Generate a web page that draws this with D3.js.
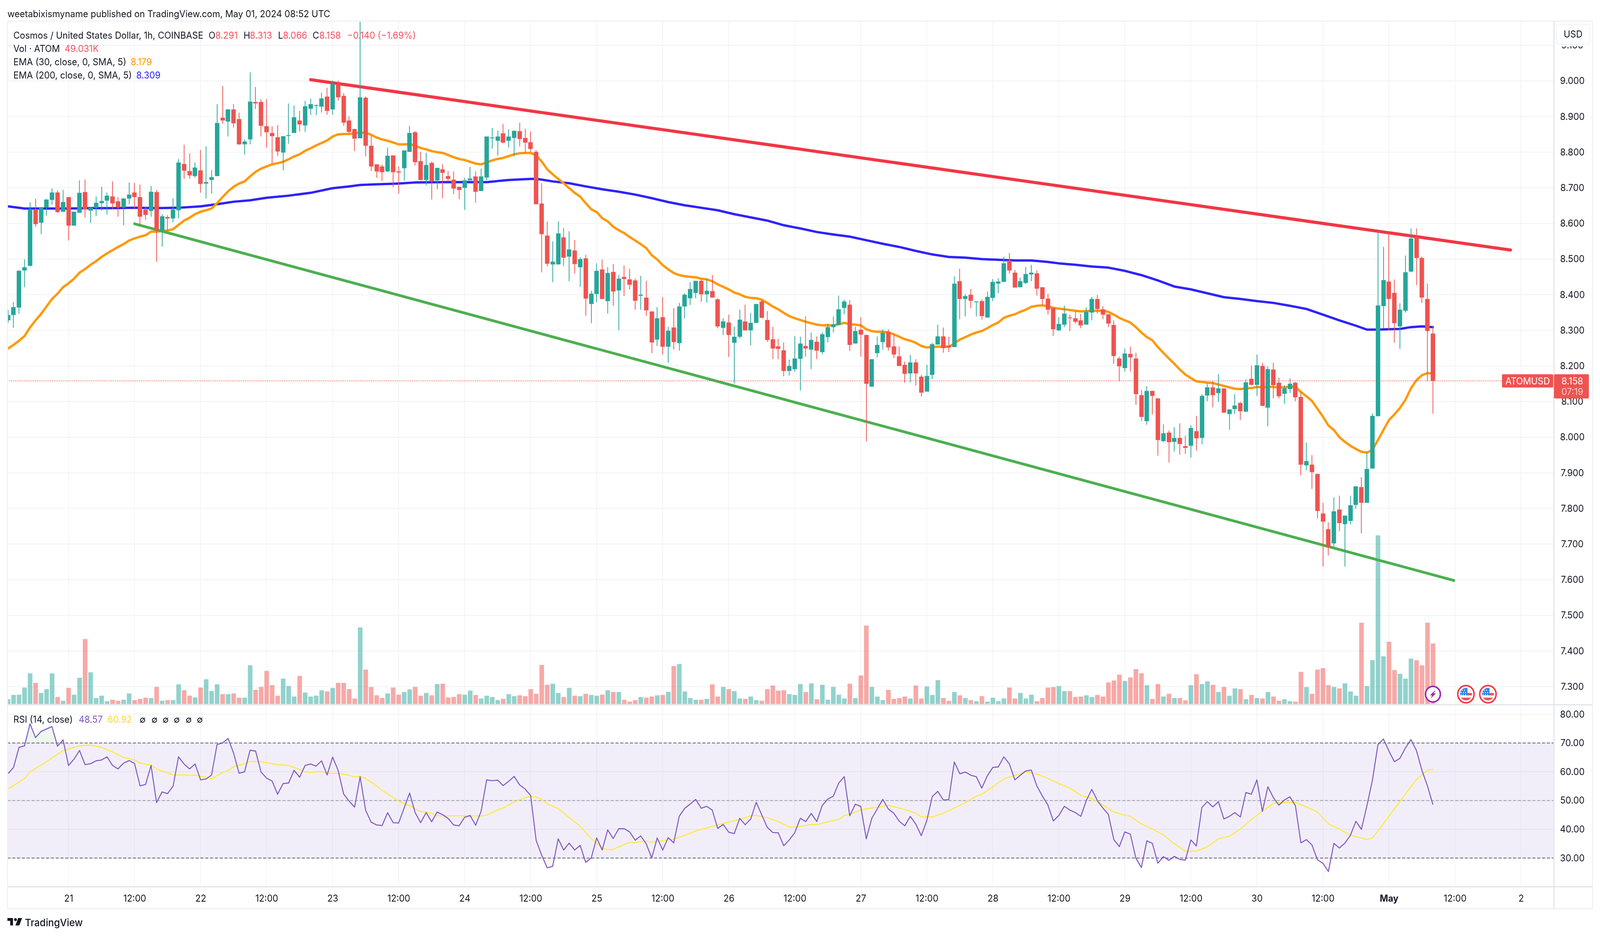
<!DOCTYPE html>
<html><head><meta charset="utf-8">
<script src="https://cdn.jsdelivr.net/npm/d3@7/dist/d3.min.js"></script>
<style>html,body{margin:0;padding:0;background:#fff;width:100%;height:100%;overflow:hidden}svg{display:block;position:fixed;left:0;top:0;width:100vw;height:100vh}text{font-family:Inter,"Noto Sans",sans-serif;fill:#131722}</style>
</head><body><svg id="c" viewBox="0 0 4310 2396" preserveAspectRatio="none"></svg>
<script>
const firstHour=-11;
const opens=[8.328,8.343,8.364,8.468,8.481,8.640,8.602,8.645,8.666,8.687,8.633,
8.674,8.594,8.630,8.688,8.636,8.644,8.657,8.664,8.676,8.662,
8.645,8.670,8.687,8.674,8.639,8.635,8.688,8.581,8.618,8.614,
8.637,8.767,8.747,8.733,8.749,8.712,8.722,8.733,8.897,8.886,
8.920,8.893,8.822,8.836,8.941,8.941,8.873,8.854,8.842,8.799,
8.846,8.854,8.889,8.875,8.922,8.931,8.928,8.956,8.920,8.991,
8.958,8.889,8.865,8.839,8.953,8.818,8.766,8.760,8.746,8.791,
8.746,8.755,8.801,8.856,8.775,8.722,8.770,8.721,8.752,8.733,
8.723,8.703,8.700,8.721,8.732,8.691,8.729,8.839,8.832,8.853,
8.832,8.840,8.859,8.840,8.828,8.801,8.656,8.566,8.485,8.485,
8.561,8.507,8.524,8.477,8.502,8.374,8.402,8.471,8.382,8.464,
8.412,8.450,8.443,8.440,8.397,8.392,8.353,8.274,8.337,8.254,
8.308,8.264,8.367,8.390,8.405,8.439,8.401,8.410,8.387,8.307,
8.322,8.265,8.282,8.325,8.300,8.321,8.381,8.329,8.275,8.255,
8.244,8.186,8.191,8.220,8.256,8.246,8.268,8.239,8.281,8.309,
8.315,8.363,8.372,8.263,8.302,8.287,8.142,8.236,8.267,8.296,
8.255,8.227,8.203,8.179,8.210,8.170,8.128,8.175,8.260,8.283,
8.257,8.253,8.438,8.388,8.400,8.379,8.382,8.336,8.391,8.431,
8.436,8.496,8.462,8.421,8.433,8.457,8.460,8.421,8.389,8.363,
8.300,8.316,8.336,8.334,8.328,8.316,8.350,8.388,8.359,8.345,
8.315,8.221,8.194,8.234,8.221,8.118,8.045,8.130,8.109,7.989,
8.013,7.987,7.998,7.975,7.976,8.017,7.998,8.117,8.140,8.124,
8.137,8.065,8.079,8.096,8.072,8.164,8.147,8.200,8.083,8.190,
8.153,8.122,8.135,8.153,8.113,7.921,7.923,7.897,7.786,7.742,
7.702,7.797,7.756,7.765,7.810,7.860,7.816,7.912,8.059,8.368,
8.437,8.405,8.311,8.355,8.465,8.561,8.503,8.388,8.291];
const closes=[8.343,8.365,8.467,8.477,8.640,8.598,8.644,8.667,8.687,8.632,8.660,
8.594,8.633,8.686,8.639,8.644,8.658,8.663,8.678,8.656,8.645,
8.670,8.681,8.674,8.619,8.624,8.689,8.581,8.620,8.614,8.639,
8.771,8.748,8.735,8.757,8.711,8.716,8.730,8.882,8.889,8.920,
8.881,8.822,8.830,8.942,8.937,8.874,8.856,8.845,8.802,8.845,
8.848,8.898,8.878,8.929,8.935,8.932,8.951,8.916,8.991,8.954,
8.883,8.857,8.838,8.954,8.818,8.760,8.746,8.744,8.790,8.744,
8.743,8.805,8.854,8.772,8.722,8.764,8.719,8.756,8.742,8.725,
8.698,8.694,8.721,8.726,8.689,8.732,8.844,8.841,8.844,8.827,
8.844,8.860,8.837,8.827,8.809,8.654,8.570,8.487,8.493,8.572,
8.504,8.527,8.486,8.500,8.389,8.403,8.467,8.388,8.461,8.409,
8.445,8.444,8.428,8.383,8.400,8.356,8.266,8.334,8.254,8.299,
8.267,8.367,8.400,8.416,8.439,8.401,8.411,8.392,8.311,8.325,
8.287,8.282,8.330,8.300,8.321,8.374,8.335,8.273,8.249,8.248,
8.186,8.200,8.221,8.263,8.249,8.273,8.243,8.289,8.309,8.317,
8.359,8.381,8.259,8.298,8.288,8.150,8.219,8.259,8.293,8.252,
8.232,8.200,8.178,8.210,8.179,8.125,8.172,8.261,8.283,8.250,
8.252,8.431,8.388,8.396,8.383,8.381,8.340,8.394,8.436,8.437,
8.488,8.468,8.420,8.438,8.458,8.462,8.417,8.388,8.358,8.303,
8.318,8.347,8.334,8.324,8.314,8.352,8.388,8.360,8.344,8.319,
8.228,8.199,8.235,8.224,8.121,8.057,8.130,8.116,7.992,8.011,
7.986,7.998,7.981,7.970,8.026,7.997,8.116,8.140,8.118,8.137,
8.069,8.078,8.089,8.073,8.154,8.147,8.202,8.088,8.191,8.146,
8.115,8.137,8.150,8.112,7.923,7.933,7.902,7.793,7.763,7.692,
7.792,7.759,7.780,7.809,7.862,7.816,7.911,8.060,8.370,8.441,
8.388,8.320,8.358,8.463,8.558,8.503,8.392,8.298,8.158];
const highs=[8.357,8.379,8.469,8.499,8.659,8.669,8.646,8.669,8.698,8.693,8.694,
8.674,8.633,8.721,8.723,8.646,8.676,8.703,8.687,8.718,8.674,
8.671,8.715,8.714,8.709,8.646,8.705,8.694,8.626,8.623,8.671,
8.781,8.821,8.797,8.771,8.806,8.816,8.750,8.935,8.986,8.921,
8.935,8.911,8.836,9.024,8.983,8.949,8.949,8.873,8.876,8.845,
8.937,8.931,8.916,8.944,8.950,8.934,8.967,8.981,9.001,9.001,
8.965,8.901,8.866,9.2,8.956,8.847,8.766,8.765,8.813,8.791,
8.76,8.805,8.874,8.859,8.801,8.798,8.774,8.756,8.766,8.747,
8.746,8.703,8.728,8.759,8.746,8.754,8.844,8.868,8.861,8.879,
8.864,8.861,8.883,8.866,8.858,8.806,8.713,8.605,8.550,8.606,
8.588,8.578,8.553,8.505,8.512,8.411,8.488,8.499,8.477,8.486,
8.455,8.482,8.473,8.445,8.453,8.439,8.353,8.365,8.393,8.310,
8.362,8.377,8.404,8.435,8.439,8.444,8.445,8.455,8.390,8.334,
8.344,8.310,8.358,8.372,8.349,8.374,8.385,8.354,8.310,8.276,
8.266,8.218,8.284,8.282,8.340,8.294,8.283,8.294,8.319,8.339,
8.397,8.386,8.385,8.310,8.337,8.288,8.219,8.283,8.303,8.303,
8.289,8.255,8.212,8.231,8.219,8.175,8.203,8.265,8.316,8.308,
8.282,8.451,8.473,8.402,8.416,8.381,8.387,8.409,8.444,8.446,
8.507,8.517,8.470,8.448,8.478,8.484,8.468,8.421,8.403,8.363,
8.337,8.369,8.344,8.354,8.346,8.365,8.394,8.399,8.368,8.345,
8.328,8.226,8.249,8.254,8.237,8.133,8.143,8.130,8.109,8.036,
8.019,8.028,8.039,8.004,8.034,8.060,8.121,8.151,8.157,8.177,
8.137,8.078,8.121,8.099,8.163,8.201,8.232,8.209,8.199,8.209,
8.167,8.146,8.165,8.155,8.127,7.985,7.950,7.897,7.816,7.761,
7.831,7.836,7.780,7.836,7.862,7.888,7.957,8.067,8.579,8.534,
8.577,8.443,8.376,8.510,8.586,8.586,8.507,8.431,8.313];
const lows=[8.321,8.307,8.347,8.421,8.479,8.590,8.570,8.622,8.653,8.629,8.633,
8.552,8.594,8.630,8.617,8.601,8.621,8.636,8.625,8.640,8.619,
8.595,8.654,8.640,8.594,8.610,8.619,8.492,8.535,8.580,8.603,
8.614,8.725,8.725,8.729,8.686,8.670,8.684,8.733,8.880,8.844,
8.869,8.821,8.793,8.822,8.921,8.844,8.813,8.769,8.789,8.749,
8.824,8.854,8.858,8.857,8.904,8.904,8.911,8.905,8.905,8.945,
8.874,8.854,8.803,8.839,8.788,8.747,8.728,8.719,8.745,8.702,
8.684,8.720,8.801,8.763,8.721,8.707,8.667,8.696,8.671,8.718,
8.682,8.668,8.638,8.721,8.658,8.691,8.721,8.81,8.790,8.825,
8.813,8.788,8.816,8.797,8.801,8.654,8.463,8.480,8.435,8.485,
8.480,8.438,8.459,8.422,8.341,8.320,8.379,8.388,8.347,8.369,
8.300,8.396,8.415,8.358,8.358,8.340,8.236,8.256,8.232,8.209,
8.246,8.243,8.333,8.371,8.390,8.380,8.378,8.392,8.306,8.287,
8.225,8.151,8.277,8.300,8.258,8.321,8.335,8.268,8.219,8.219,
8.171,8.173,8.184,8.131,8.226,8.191,8.219,8.233,8.266,8.294,
8.315,8.345,8.242,8.263,8.226,7.988,8.141,8.224,8.246,8.243,
8.222,8.200,8.153,8.154,8.145,8.114,8.128,8.163,8.260,8.237,
8.239,8.253,8.331,8.339,8.362,8.339,8.330,8.336,8.382,8.404,
8.436,8.459,8.420,8.421,8.430,8.438,8.398,8.371,8.344,8.284,
8.298,8.309,8.298,8.319,8.306,8.316,8.328,8.347,8.331,8.309,
8.206,8.157,8.184,8.184,8.091,8.045,8.035,8.064,7.948,7.987,
7.929,7.960,7.951,7.953,7.943,7.962,7.980,8.101,8.084,8.099,
8.068,8.021,8.065,8.048,8.070,8.145,8.116,8.088,8.031,8.109,
8.109,8.094,8.124,8.101,7.893,7.907,7.855,7.772,7.637,7.668,
7.692,7.736,7.637,7.755,7.799,7.730,7.816,7.912,8.059,8.306,
8.300,8.265,8.248,8.350,8.463,8.427,8.377,8.158,8.066];
const volumes=[3.8,7.3,7.5,13.3,24.8,17.1,8.9,12.0,24.8,5.6,2.6,
13.0,7.5,21.2,52.6,25.6,4.8,6.7,2.2,3.4,2.6,
3.4,8.5,3.1,4.1,5.1,4.8,13.8,2.6,3.1,3.1,
15.9,11.1,6.7,5.3,13.3,20.0,10.4,15.9,7.9,7.9,
8.5,5.1,5.1,31.3,11.4,13.8,26.8,15.2,6.7,20.5,
14.5,6.0,22.7,9.2,6.0,6.7,11.1,10.1,13.0,17.1,
17.1,12.0,4.4,62.0,27.8,13.7,7.0,4.8,8.5,13.3,
7.5,9.7,11.8,13.8,6.7,8.9,7.0,16.1,16.4,5.3,
5.6,7.9,7.5,10.8,7.3,4.4,6.7,5.6,3.1,4.1,
7.9,6.3,7.0,6.3,12.0,8.2,31.6,15.5,16.4,8.9,
5.6,13.0,6.7,6.3,8.2,7.3,6.7,7.5,11.1,9.7,
9.7,3.4,1.9,3.1,5.6,5.1,6.0,7.0,7.3,9.7,
30.7,32.3,10.1,4.8,3.4,3.4,4.1,15.9,6.0,13.8,
12.0,10.4,4.4,4.1,6.0,3.1,2.6,12.0,14.9,10.8,
11.1,7.9,7.3,16.1,9.7,16.7,3.8,15.5,3.4,13.8,
7.5,4.4,16.4,4.8,23.1,63.5,13.8,6.0,3.1,11.4,
4.1,4.8,6.0,4.4,14.9,4.4,14.2,7.3,19.3,4.8,
2.6,9.7,7.0,4.8,3.1,2.2,6.3,1.9,5.1,2.2,
4.4,13.3,4.4,8.9,4.4,7.5,2.2,4.8,13.3,13.7,
14.5,10.4,10.4,5.6,6.0,7.0,5.6,7.3,6.0,17.4,
19.0,23.7,18.6,21.5,28.2,24.9,15.2,4.1,16.1,6.0,
8.2,4.8,4.8,2.9,15.2,24.1,16.1,18.3,15.5,9.7,
13.8,6.7,12.6,12.0,3.8,7.3,4.8,4.4,9.7,6.0,
2.6,3.8,2.2,1.9,26.0,13.7,8.2,27.8,29.0,15.2,
13.8,12.6,16.7,10.1,6.7,65.8,14.5,35.5,136.6,38.6,
50.4,27.5,24.4,20.5,36.7,35.5,31.3,65.8,49.0];
const rsi=[59.4,61.5,68.5,69.0,76.7,71.9,74.0,74.9,75.7,68.9,71.1,
62.2,64.4,67.4,62.5,62.8,63.8,64.1,65.2,62.2,61.0,
63.0,63.9,62.9,55.1,55.6,62.2,49.3,53.0,52.4,55.0,
65.2,62.7,61.0,62.7,57.2,57.5,58.9,69.5,70.0,71.6,
66.5,59.5,60.0,67.5,67.2,59.9,57.8,56.8,52.2,55.9,
56.1,60.5,58.1,62.2,62.7,62.0,63.8,58.9,65.1,60.5,
52.3,49.8,47.7,58.3,46.6,42.5,41.5,41.3,45.8,42.3,
42.2,47.4,52.6,45.8,42.3,45.8,42.6,46.0,45.1,43.8,
41.5,41.2,44.2,44.8,41.4,46.3,57.2,56.9,57.1,55.2,
56.7,58.4,55.4,54.0,51.7,36.1,31.0,26.6,27.1,36.7,
32.8,35.2,32.8,34.4,28.5,30.0,37.0,32.8,39.8,36.8,
40.2,40.2,39.1,36.2,37.7,35.0,30.0,37.0,32.8,37.1,
35.3,44.5,47.3,48.8,50.4,47.3,48.0,46.7,40.3,41.7,
39.0,38.5,43.8,41.6,43.6,49.4,45.0,40.7,38.9,38.8,
34.3,36.3,38.8,43.8,42.7,45.5,42.7,48.3,50.5,51.5,
56.1,58.3,44.7,48.7,48.0,36.7,43.8,47.1,50.4,47.1,
45.6,42.8,41.2,44.5,41.8,37.8,43.0,51.4,53.2,50.2,
50.3,63.4,59.3,59.9,58.8,58.3,54.3,58.6,61.5,61.7,
65.2,62.8,57.2,58.8,60.3,60.6,55.1,51.6,48.5,42.9,
44.8,48.0,46.7,45.8,44.5,50.0,53.9,50.0,47.4,45.2,
36.4,34.0,39.1,38.3,30.0,26.7,36.0,35.1,28.2,30.5,
29.2,30.6,29.5,29.3,36.3,34.2,47.6,49.6,47.8,49.6,
43.6,44.5,45.8,44.3,52.8,52.2,57.2,46.2,54.8,51.0,
48.4,50.2,51.3,48.2,35.3,36.4,34.6,29.4,28.2,25.3,
35.1,33.5,35.2,37.9,42.8,40.0,48.2,57.1,69.4,71.4,
67.2,63.5,64.7,68.3,71.2,67.4,60.5,55.1,48.57];
const rsiMaHours=[-11,-9,-8,-7,-5,-3,-1,0,2,4,6,8,10,12,13,15,16,19,21,23,25,26,28,29,30,32,33,35,37,38,40,42,43,44,46,47,49,51,52,53,54,56,57,59,60,62,63,64,66,67,69,71,73,75,76,78,79,81,83,84,85,86,87,89,91,93,95,97,98,99,100,102,103,105,106,108,110,112,114,116,118,120,122,124,125,127,129,131,132,134,135,136,138,140,141,142,144,146,148,149,151,153,154,155,157,159,161,163,165,166,168,170,172,174,176,178,180,182,184,186,188,190,192,193,195,197,199,201,203,205,207,209,211,213,215,217,219,221,223,225,227,229,231,233,235,236,237,239,241,243,245,247,248];
const rsiMaValues=[54.0,56.4,57.7,59.9,62.3,64.8,67.4,67.9,69.0,69.3,68.5,66.9,65.0,64.1,63.0,62.3,61.0,58.9,58.9,58.8,58.1,57.6,59.8,60.4,61.8,62.8,63.6,63.5,62.8,62.5,62.2,60.8,60.0,59.8,60.1,59.5,59.4,58.8,58.2,58.4,57.7,55.1,53.5,51.1,49.8,48.2,47.1,46.2,45.6,44.7,44.7,44.7,44.7,44.6,44.9,46.7,47.4,49.5,51.0,51.5,51.2,50.4,48.9,47.2,44.1,41.1,36.8,33.5,32.9,33.0,33.9,35.5,35.4,35.9,35.5,36.1,36.6,37.9,39.4,40.5,41.6,42.5,43.4,44.7,44.8,44.1,42.7,40.8,40.8,41.3,41.7,41.6,42.6,43.4,44.8,45.2,46.8,47.4,48.0,48.3,47.4,46.3,45.6,44.3,44.3,45.6,47.4,49.3,51.5,52.2,54.8,57.5,58.8,59.9,59.2,57.7,55.9,54.4,51.8,50.7,48.5,46.0,44.9,44.5,41.9,40.1,38.1,35.0,32.4,32.4,33.9,36.7,37.6,40.1,43.4,46.3,49.1,49.3,49.3,47.8,46.0,41.9,40.1,37.9,37.0,36.4,37.0,41.9,47.1,52.2,57.3,60.5,60.92];
const ema30=[8.249,8.259,8.271,8.284,8.308,8.328,8.346,8.367,8.388,8.403,8.421,
8.432,8.445,8.462,8.472,8.484,8.494,8.506,8.516,8.525,8.534,
8.542,8.552,8.558,8.563,8.567,8.577,8.577,8.579,8.580,8.584,
8.596,8.608,8.616,8.626,8.633,8.637,8.642,8.657,8.674,8.690,
8.703,8.712,8.718,8.732,8.745,8.754,8.760,8.766,8.769,8.773,
8.780,8.788,8.794,8.804,8.811,8.819,8.826,8.833,8.844,8.850,
8.851,8.851,8.854,8.854,8.855,8.849,8.841,8.836,8.832,8.827,
8.822,8.822,8.823,8.818,8.812,8.808,8.803,8.800,8.798,8.792,
8.786,8.781,8.778,8.773,8.768,8.766,8.771,8.777,8.781,8.784,
8.789,8.794,8.797,8.798,8.798,8.791,8.774,8.752,8.738,8.725,
8.713,8.699,8.686,8.675,8.657,8.640,8.632,8.615,8.606,8.591,
8.581,8.573,8.562,8.552,8.542,8.531,8.511,8.499,8.483,8.471,
8.461,8.455,8.452,8.450,8.449,8.445,8.443,8.438,8.429,8.422,
8.415,8.406,8.401,8.394,8.391,8.390,8.386,8.377,8.367,8.359,
8.349,8.340,8.334,8.329,8.324,8.320,8.316,8.314,8.314,8.314,
8.317,8.321,8.317,8.316,8.314,8.303,8.298,8.296,8.296,8.294,
8.289,8.282,8.275,8.271,8.265,8.256,8.252,8.253,8.254,8.254,
8.254,8.263,8.274,8.281,8.288,8.294,8.298,8.306,8.315,8.322,
8.335,8.341,8.345,8.352,8.358,8.366,8.369,8.370,8.368,8.363,
8.361,8.359,8.357,8.355,8.353,8.354,8.355,8.355,8.355,8.352,
8.344,8.335,8.328,8.322,8.309,8.294,8.281,8.272,8.253,8.237,
8.221,8.206,8.190,8.176,8.166,8.157,8.155,8.153,8.152,8.148,
8.144,8.140,8.136,8.135,8.137,8.138,8.141,8.140,8.141,8.141,
8.140,8.140,8.142,8.141,8.127,8.115,8.102,8.080,8.058,8.033,
8.020,8.000,7.987,7.976,7.967,7.959,7.957,7.964,7.992,8.020,
8.048,8.064,8.082,8.105,8.137,8.160,8.174,8.180,8.179];
const ema200Hours=[-11,-8,-4,0,4,8,12,16,20,24,27,30,33,36,40,44,48,51,53,56,60,63,68,72,76,80,84,85,86,88,91,94,97,100,103,106,109,112,115,118,121,124,127,130,133,136,139,142,145,148,151,154,157,160,163,166,169,172,175,178,180,183,186,189,192,195,198,201,204,207,210,213,216,219,222,225,228,231,234,236,238,240,242,244,246,248];
const ema200Values=[8.648,8.642,8.642,8.642,8.643,8.643,8.644,8.643,8.644,8.648,8.654,8.661,8.665,8.672,8.678,8.686,8.699,8.704,8.708,8.710,8.712,8.715,8.716,8.716,8.716,8.722,8.725,8.725,8.723,8.718,8.713,8.704,8.696,8.689,8.681,8.671,8.660,8.651,8.644,8.637,8.626,8.617,8.608,8.595,8.586,8.576,8.569,8.563,8.553,8.543,8.534,8.523,8.513,8.506,8.504,8.500,8.498,8.496,8.496,8.492,8.488,8.484,8.479,8.476,8.467,8.455,8.440,8.423,8.415,8.404,8.393,8.388,8.382,8.377,8.369,8.360,8.344,8.328,8.313,8.302,8.302,8.303,8.304,8.309,8.311,8.309];
const resistanceLine=[[44,9.0035],[262.1,8.5254]];
const supportLine=[[12,8.599],[251.8,7.598]];
const lastPrice=8.158;
const priceTicks=[9.1,9.0,8.9,8.8,8.7,8.6,8.5,8.4,8.3,8.2,8.1,8.0,7.9,7.8,7.7,7.6,7.5,7.4,7.3];
const rsiTicks=[80,70,60,50,40,30];
const rsiBands=[70,50,30];
const timeTicks=[0,12,24,36,48,60,72,84,96,108,120,132,144,156,168,180,192,204,216,228,240,252,264];
const timeLabels=["21","12:00","22","12:00","23","12:00","24","12:00","25","12:00","26","12:00","27","12:00","28","12:00","29","12:00","30","12:00","May","12:00","2"];
const eventHours={bolt:[248],flag:[254,258]};
const upColor="#26a69a",downColor="#ef5350",purple="#7e57c2",yellow="#fde93b",textRed="#f7525f";

const hours=d3.range(firstHour,firstHour+opens.length);
const svg=d3.select("#c");
const L=20,R=4186,OUT=4290,T=54,B=1804,RB=2270,TB=2326;
const x=d3.scaleLinear().domain([0,240]).range([184.6,3741.4]);
const y=d3.scaleLinear().domain([7.6,8.6]).range([1484,572]);
const vy=d3.scaleLinear().domain([0,100]).range([1802,1486]);
const ry=d3.scaleLinear().domain([30,70]).range([2196.5,1902]);
const gridC="#f3f4f7",edgeC="#f0f1f6",sepC="#e0e3eb";

const defs=svg.append("defs");
defs.append("clipPath").attr("id","pp").append("rect").attr("x",L).attr("y",T).attr("width",R-L).attr("height",B-T);
defs.append("clipPath").attr("id","rp").append("rect").attr("x",L).attr("y",B).attr("width",R-L).attr("height",RB-B);
defs.append("clipPath").attr("id","above").append("rect").attr("x",L).attr("y",B).attr("width",R-L).attr("height",ry(70)-B);
defs.append("clipPath").attr("id","below").append("rect").attr("x",L).attr("y",ry(30)).attr("width",R-L).attr("height",RB-ry(30));

// grid
svg.append("g").selectAll("line").data(timeTicks).join("line")
 .attr("x1",d=>x(d)).attr("x2",d=>x(d)).attr("y1",T).attr("y2",RB).attr("stroke",gridC).attr("stroke-width",2);
svg.append("g").selectAll("line").data(priceTicks).join("line")
 .attr("x1",L).attr("x2",R).attr("y1",d=>y(d)).attr("y2",d=>y(d)).attr("stroke",gridC).attr("stroke-width",2.5);
svg.append("g").selectAll("line").data(rsiTicks).join("line")
 .attr("x1",L).attr("x2",R).attr("y1",d=>ry(d)).attr("y2",d=>ry(d)).attr("stroke",gridC).attr("stroke-width",2.5);

// rsi band
svg.append("rect").attr("x",L).attr("width",R-L).attr("y",ry(70)).attr("height",ry(30)-ry(70)).attr("fill","#7e57c2").attr("fill-opacity",.1);

// volume
const pane=svg.append("g").attr("clip-path","url(#pp)");
pane.append("g").selectAll("rect").data(hours).join("rect")
 .attr("x",(d)=>x(d)-6).attr("width",12.4)
 .attr("y",(d,i)=>vy(volumes[i])).attr("height",(d,i)=>vy(0)-vy(volumes[i]))
 .attr("fill",(d,i)=>closes[i]>=opens[i]?upColor:downColor).attr("fill-opacity",.5);

// last price dotted
svg.append("line").attr("x1",L).attr("x2",4046).attr("y1",y(lastPrice)).attr("y2",y(lastPrice))
 .attr("stroke",downColor).attr("stroke-width",2).attr("stroke-dasharray","2 3");

// emas
const ln=d3.line().x(d=>x(d[0])).y(d=>y(d[1])).curve(d3.curveLinear);
pane.append("path").attr("d",ln(ema200Hours.map((h,i)=>[h,ema200Values[i]]))).attr("fill","none").attr("stroke","#2e22ff").attr("stroke-width",6).attr("stroke-linejoin","round").attr("stroke-linecap","round");
pane.append("path").attr("d",ln(hours.map((h,i)=>[h,ema30[i]]))).attr("fill","none").attr("stroke","#ff9800").attr("stroke-width",6).attr("stroke-linejoin","round").attr("stroke-linecap","round");
// trend lines
pane.append("path").attr("d",ln(resistanceLine)).attr("fill","none").attr("stroke","#f23645").attr("stroke-width",8).attr("stroke-linecap","round");
pane.append("path").attr("d",ln(supportLine)).attr("fill","none").attr("stroke","#4caf50").attr("stroke-width",7).attr("stroke-linecap","round");

// candles
const col=i=>closes[i]>=opens[i]?upColor:downColor;
const cg=pane.append("g");
cg.selectAll("line").data(hours).join("line")
 .attr("x1",d=>Math.round(x(d))).attr("x2",d=>Math.round(x(d)))
 .attr("y1",(d,i)=>y(highs[i])).attr("y2",(d,i)=>y(lows[i]))
 .attr("stroke",(d,i)=>col(i)).attr("stroke-width",2);
cg.selectAll("rect").data(hours).join("rect")
 .attr("x",d=>Math.round(x(d))-6).attr("width",12)
 .attr("y",(d,i)=>y(Math.max(opens[i],closes[i])))
 .attr("height",(d,i)=>Math.max(2,Math.abs(y(opens[i])-y(closes[i]))))
 .attr("fill",(d,i)=>col(i));

// RSI
svg.append("g").selectAll("line").data(rsiBands).join("line")
 .attr("x1",L).attr("x2",R).attr("y1",d=>ry(d)).attr("y2",d=>ry(d))
 .attr("stroke","#787b86").attr("stroke-opacity",d=>d===50?.55:1).attr("stroke-width",2.5).attr("stroke-dasharray","8 5");
const ra=svg.append("g").attr("clip-path","url(#rp)");
const ar=d3.area().x(d=>x(d[0])).y1(d=>ry(d[1]));
const rsiPts=hours.map((h,i)=>[h,rsi[i]]);
ra.append("g").attr("clip-path","url(#above)").append("path").attr("d",ar.y0(ry(70))(rsiPts)).attr("fill","#4caf50").attr("fill-opacity",.1);
ra.append("g").attr("clip-path","url(#below)").append("path").attr("d",ar.y0(ry(30))(rsiPts)).attr("fill","#f23645").attr("fill-opacity",.06);
const rl=d3.line().x(d=>x(d[0])).y(d=>ry(d[1]));
ra.append("path").attr("d",rl(rsiMaHours.map((h,i)=>[h,rsiMaValues[i]]))).attr("fill","none").attr("stroke",yellow).attr("stroke-width",2.6).attr("stroke-linejoin","round");
ra.append("path").attr("d",rl(rsiPts)).attr("fill","none").attr("stroke",purple).attr("stroke-width",2.6).attr("stroke-linejoin","round");

// frame
svg.append("line").attr("x1",L).attr("x2",L).attr("y1",T).attr("y2",TB).attr("stroke",edgeC).attr("stroke-width",3);
svg.append("line").attr("x1",OUT).attr("x2",OUT).attr("y1",T).attr("y2",TB).attr("stroke",edgeC).attr("stroke-width",3);
svg.append("line").attr("x1",L).attr("x2",OUT).attr("y1",T).attr("y2",T).attr("stroke",edgeC).attr("stroke-width",3);
svg.append("line").attr("x1",L).attr("x2",OUT).attr("y1",TB).attr("y2",TB).attr("stroke",edgeC).attr("stroke-width",3);
svg.append("line").attr("x1",R).attr("x2",R).attr("y1",T).attr("y2",TB).attr("stroke",sepC).attr("stroke-width",3);
svg.append("line").attr("x1",L).attr("x2",OUT).attr("y1",B).attr("y2",B).attr("stroke",sepC).attr("stroke-width",3);
svg.append("line").attr("x1",L).attr("x2",OUT).attr("y1",RB).attr("y2",RB).attr("stroke",sepC).attr("stroke-width",3);

// axes
const styleAxis=g=>{g.select(".domain").remove();g.selectAll(".tick line").remove();g.selectAll("text").attr("font-family","Inter").style("font-size","24px").style("fill","#131722");};
svg.append("g").attr("transform",`translate(${4235.5},0)`)
 .call(d3.axisRight(y).tickValues(priceTicks).tickFormat(d3.format(".3f")).tickSize(0).tickPadding(0)).call(styleAxis)
 .selectAll("text").attr("text-anchor","middle").attr("x",0);
svg.append("g").attr("transform",`translate(${4235.5},0)`)
 .call(d3.axisRight(ry).tickValues(rsiTicks).tickFormat(d3.format(".2f")).tickSize(0).tickPadding(0)).call(styleAxis)
 .selectAll("text").attr("text-anchor","middle").attr("x",0);
svg.append("g").attr("transform",`translate(0,2291)`)
 .call(d3.axisBottom(x).tickValues(timeTicks).tickFormat((d,i)=>timeLabels[i]).tickSize(0).tickPadding(0)).call(styleAxis)
 .selectAll("text").attr("y",0).attr("dy","0.71em").style("font-weight",(d,i)=>timeLabels[i]==="May"?"700":"400");

// USD box
svg.append("rect").attr("x",R+3).attr("y",T+2).attr("width",OUT-R-5).attr("height",62).attr("fill","#fff");
svg.append("rect").attr("x",4193).attr("y",62).attr("width",89).attr("height",52).attr("rx",8).attr("fill","#fff").attr("stroke",edgeC).attr("stroke-width",2);
svg.append("text").attr("x",4237.5).attr("y",96.5).attr("text-anchor","middle").style("font-size","24px").text("USD");

// price labels
const tag=svg.append("g");
tag.append("rect").attr("x",4046).attr("y",958).attr("width",138).attr("height",34).attr("rx",3).attr("fill",downColor);
tag.append("rect").attr("x",4186).attr("y",958).attr("width",94).attr("height",62).attr("rx",3).attr("fill",downColor);
tag.append("text").attr("x",4115).attr("y",984).attr("text-anchor","middle").style("font-size","24px").style("fill","#fff").text("ATOMUSD");
tag.append("text").attr("x",4235.5).attr("y",984).attr("text-anchor","middle").style("font-size","24px").style("fill","#fff").text("8.158");
tag.append("text").attr("x",4235.5).attr("y",1011.5).attr("text-anchor","middle").style("font-size","24px").style("fill","#fff").style("fill-opacity",.7).text("07:19");

// legends
const legend=[
 [20,44,"weetabixismyname published on TradingView.com, May 01, 2024 08:52 UTC","#131722"],
 [36,99,"Cosmos / United States Dollar, 1h, COINBASE","#131722"],
 [562,99,"O","#131722"],[580,99,"8.291",textRed],[656,99,"H","#131722"],[673,99,"8.313",textRed],
 [749,99,"L","#131722"],[762,99,"8.066",textRed],[842,99,"C","#131722"],[860,99,"8.158",textRed],
 [935,99,"−0.140 (−1.69%)",textRed],
 [36,133,"Vol · ATOM","#131722"],[174,133,"49.031K",textRed],
 [36,167,"EMA (30, close, 0, SMA, 5)","#131722"],[352,167,"8.179","#ff9800"],
 [36,201,"EMA (200, close, 0, SMA, 5)","#131722"],[367,201,"8.309","#2e22ff"],
 [36,1850,"RSI (14, close)","#131722"],[212,1850,"48.57",purple],[290,1850,"60.92","#fdd835"],
 [376,1850,"∅","#131722"],[408,1850,"∅","#131722"],[438,1850,"∅","#131722"],[468,1850,"∅","#131722"],[500,1850,"∅","#131722"],[530,1850,"∅","#131722"]
];
svg.append("g").selectAll("text").data(legend).join("text")
 .attr("x",d=>d[0]).attr("y",d=>d[1]).style("font-size","24px").style("fill",d=>d[3]).text(d=>d[2]);

// logo
const logo=svg.append("g").attr("fill","#131722");
logo.append("path").attr("d","M20 2350H35V2369H27.5V2357.3H20Z");
logo.append("circle").attr("cx",41.7).attr("cy",2354).attr("r",3.8);
logo.append("path").attr("d","M49 2350H59.5L52 2369H41.5Z");
svg.append("text").attr("x",67).attr("y",2371).style("font-size","26px").style("font-weight","500").text("TradingView");

// event icons
const ev=svg.append("g");
const cy=1777;
eventHours.bolt.forEach(h=>{
 const g=ev.append("g").attr("transform",`translate(${x(h)},${cy})`);
 g.append("circle").attr("r",22).attr("fill","#fff");
 g.append("circle").attr("r",20).attr("fill","#fff").attr("stroke","#9c27b0").attr("stroke-width",4);
 g.append("path").attr("d","M7 -11 L-8 3 L-2 3 L-6 11 L8 -2 L2 -2 Z").attr("fill","#9c27b0");
});
eventHours.flag.forEach((h,i)=>{
 const g=ev.append("g").attr("transform",`translate(${x(h)},${cy})`);
 g.append("circle").attr("r",22).attr("fill","#fff").attr("stroke","#f23645").attr("stroke-width",4);
 defs.append("clipPath").attr("id","fc"+i).append("circle").attr("r",16);
 const f=g.append("g").attr("clip-path",`url(#fc${i})`);
 f.append("rect").attr("x",-16).attr("y",-16).attr("width",32).attr("height",32).attr("fill","#f0f3fa");
 f.append("rect").attr("x",-16).attr("y",-3).attr("width",32).attr("height",6).attr("fill","#ef5350");
 f.append("rect").attr("x",-16).attr("y",9).attr("width",32).attr("height",8).attr("fill","#ef5350");
 f.append("rect").attr("x",-16).attr("y",-16).attr("width",20).attr("height",19).attr("fill","#2e87e8");
 [[-10,-10],[-4,-10],[-13,-4],[-7,-4],[-1,-4],[-13,2],[-7,2],[-1,2]].forEach(p=>f.append("circle").attr("cx",p[0]).attr("cy",p[1]).attr("r",1.4).attr("fill","#fff"));
});
</script></body></html>
